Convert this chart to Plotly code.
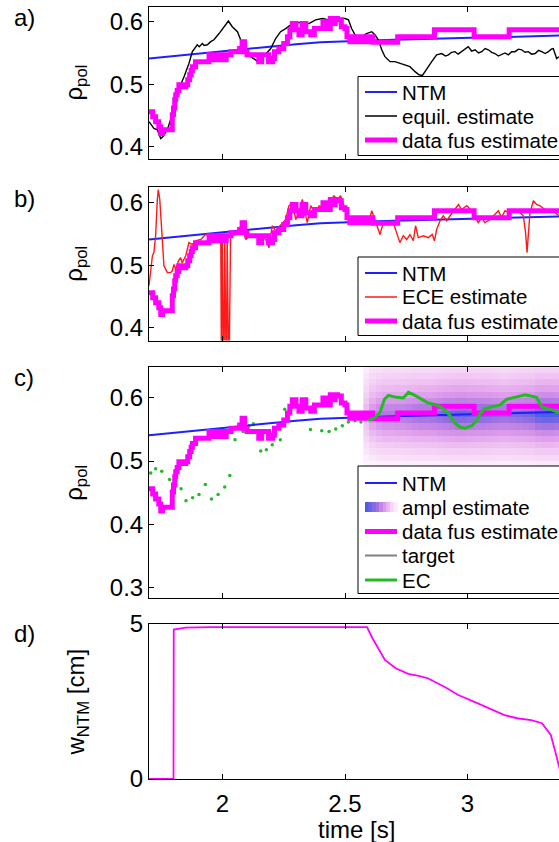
import plotly.graph_objects as go

W, H = 559, 842
FONT = "Liberation Sans, Arial, Helvetica, sans-serif"

# ---------------- data ----------------
# NTM location (same in panels a-c)
ntm_t = [1.70, 1.80, 1.90, 2.00, 2.10, 2.20, 2.30, 2.40, 2.50, 2.60, 2.70, 2.80,
         2.90, 3.00, 3.10, 3.20, 3.30, 3.40]
ntm_rho = [0.541, 0.545, 0.549, 0.553, 0.557, 0.561, 0.564, 0.567, 0.569, 0.570,
           0.571, 0.572, 0.573, 0.574, 0.575, 0.576, 0.577, 0.578]

# data fusion estimate (piecewise constant)
fus_t = [1.700, 1.715, 1.727, 1.740, 1.748, 1.755, 1.795, 1.800, 1.805, 1.809,
         1.815, 1.822, 1.840, 1.850, 1.858, 1.866, 1.872, 1.877, 1.890, 1.945,
         1.960, 1.980, 1.995, 2.015, 2.035, 2.070, 2.080, 2.090, 2.100, 2.148,
         2.160, 2.188, 2.204, 2.212, 2.230, 2.250, 2.265, 2.275, 2.285, 2.300,
         2.312, 2.325, 2.340, 2.360, 2.375, 2.410, 2.420, 2.440, 2.450, 2.460,
         2.470, 2.485, 2.500, 2.508, 2.520, 2.535, 2.550, 2.570, 2.585, 2.605,
         2.614, 2.715, 2.865, 3.027, 3.170, 3.400]
fus_rho = [0.456, 0.448, 0.440, 0.432, 0.421, 0.427, 0.451, 0.462, 0.475, 0.483,
           0.490, 0.499, 0.496, 0.499, 0.507, 0.515, 0.522, 0.528, 0.536, 0.547,
           0.539, 0.547, 0.539, 0.547, 0.552, 0.557, 0.568, 0.552, 0.547, 0.536,
           0.547, 0.536, 0.541, 0.552, 0.557, 0.565, 0.576, 0.587, 0.597, 0.587,
           0.579, 0.597, 0.584, 0.579, 0.589, 0.600, 0.589, 0.605, 0.597, 0.605,
           0.603, 0.592, 0.589, 0.576, 0.568, 0.576, 0.568, 0.576, 0.568, 0.576,
           0.567, 0.576, 0.587, 0.576, 0.587, 0.587]

# equilibrium estimate
eq_t = [1.700, 1.720, 1.734, 1.748, 1.757, 1.775, 1.788, 1.802, 1.816, 1.829,
        1.843, 1.863, 1.877, 1.897, 1.905, 1.918, 1.925, 1.938, 1.952, 1.965,
        1.986, 2.006, 2.024, 2.040, 2.061, 2.074, 2.095, 2.115, 2.135, 2.145,
        2.156, 2.176, 2.197, 2.217, 2.237, 2.258, 2.278, 2.299, 2.326, 2.353,
        2.380, 2.408, 2.435, 2.462, 2.489, 2.500, 2.514, 2.527, 2.541, 2.554,
        2.568, 2.588, 2.609, 2.622, 2.636, 2.650, 2.663, 2.684, 2.704, 2.724,
        2.745, 2.765, 2.786, 2.802, 2.816, 2.833, 2.854, 2.874, 2.895, 2.910,
        2.922, 2.935, 2.949, 2.962, 2.976, 2.990, 3.003, 3.017, 3.031, 3.045,
        3.058, 3.072, 3.085, 3.099, 3.112, 3.126, 3.139, 3.153, 3.167, 3.180,
        3.194, 3.208, 3.221, 3.235, 3.248, 3.262, 3.276, 3.290, 3.303, 3.317,
        3.330, 3.342, 3.350, 3.364, 3.373]
eq_rho = [0.440, 0.429, 0.427, 0.413, 0.416, 0.427, 0.443, 0.467, 0.483, 0.499,
          0.512, 0.533, 0.552, 0.563, 0.560, 0.565, 0.562, 0.563, 0.568, 0.571,
          0.581, 0.592, 0.601, 0.592, 0.584, 0.571, 0.557, 0.544, 0.539, 0.535,
          0.539, 0.547, 0.557, 0.573, 0.584, 0.589, 0.595, 0.597, 0.600, 0.597,
          0.603, 0.605, 0.603, 0.605, 0.605, 0.605, 0.603, 0.589, 0.579, 0.573,
          0.576, 0.581, 0.584, 0.579, 0.571, 0.555, 0.544, 0.536, 0.536, 0.533,
          0.531, 0.528, 0.520, 0.515, 0.514, 0.523, 0.536, 0.547, 0.549, 0.545,
          0.547, 0.551, 0.552, 0.548, 0.552, 0.556, 0.560, 0.553, 0.555, 0.550,
          0.552, 0.557, 0.555, 0.551, 0.549, 0.545, 0.547, 0.550, 0.547, 0.552,
          0.552, 0.556, 0.555, 0.551, 0.552, 0.548, 0.549, 0.554, 0.552, 0.549,
          0.552, 0.556, 0.557, 0.541, 0.544]

# ECE estimate
ece_t = [1.700, 1.707, 1.714, 1.720, 1.727, 1.734, 1.738, 1.744, 1.752, 1.761,
         1.775, 1.788, 1.795, 1.802, 1.809, 1.820, 1.829, 1.836, 1.850, 1.863,
         1.877, 1.890, 1.911, 1.931, 1.945, 1.959, 1.979, 1.993, 1.996, 1.999,
         2.006, 2.009, 2.016, 2.019, 2.026, 2.033, 2.054, 2.067, 2.081, 2.095,
         2.115, 2.135, 2.156, 2.176, 2.190, 2.203, 2.217, 2.237, 2.258, 2.271,
         2.285, 2.299, 2.312, 2.326, 2.339, 2.346, 2.360, 2.380, 2.394, 2.414,
         2.435, 2.455, 2.469, 2.482, 2.496, 2.510, 2.527, 2.548, 2.568, 2.582,
         2.602, 2.609, 2.622, 2.636, 2.643, 2.656, 2.677, 2.697, 2.711, 2.724,
         2.738, 2.752, 2.765, 2.779, 2.788, 2.799, 2.820, 2.840, 2.856, 2.865,
         2.874, 2.888, 2.901, 2.915, 2.929, 2.949, 2.963, 2.976, 2.997, 3.017,
         3.031, 3.044, 3.058, 3.071, 3.092, 3.112, 3.126, 3.139, 3.153, 3.167,
         3.180, 3.194, 3.214, 3.228, 3.237, 3.243, 3.248, 3.255, 3.269, 3.282,
         3.296, 3.316, 3.337, 3.357, 3.373]
ece_rho = [0.467, 0.493, 0.515, 0.520, 0.547, 0.605, 0.621, 0.605, 0.547, 0.499,
           0.488, 0.488, 0.491, 0.501, 0.493, 0.507, 0.512, 0.504, 0.515, 0.536,
           0.533, 0.539, 0.541, 0.549, 0.547, 0.539, 0.536, 0.536, 0.300, 0.540,
           0.300, 0.542, 0.300, 0.545, 0.300, 0.547, 0.549, 0.560, 0.563, 0.541,
           0.549, 0.547, 0.549, 0.541, 0.528, 0.563, 0.555, 0.563, 0.573, 0.595,
           0.600, 0.573, 0.584, 0.605, 0.584, 0.568, 0.595, 0.584, 0.595, 0.592,
           0.600, 0.611, 0.605, 0.611, 0.595, 0.576, 0.568, 0.573, 0.568, 0.571,
           0.576, 0.587, 0.573, 0.557, 0.549, 0.568, 0.565, 0.568, 0.552, 0.536,
           0.547, 0.541, 0.549, 0.539, 0.563, 0.544, 0.547, 0.544, 0.549, 0.539,
           0.557, 0.571, 0.579, 0.571, 0.579, 0.589, 0.597, 0.589, 0.595, 0.587,
           0.576, 0.568, 0.576, 0.568, 0.573, 0.581, 0.587, 0.576, 0.587, 0.584,
           0.589, 0.587, 0.584, 0.579, 0.552, 0.520, 0.552, 0.584, 0.603, 0.597,
           0.595, 0.589, 0.587, 0.584, 0.579]

# EC deposition: sparse samples before switch-on, continuous afterwards
ec_dot_t = [1.707, 1.727, 1.752, 1.784, 1.809, 1.831, 1.851, 1.878, 1.904, 1.930,
            1.955, 1.982, 2.009, 2.030, 2.051, 2.084, 2.108, 2.126, 2.156, 2.179,
            2.203, 2.236, 2.254, 2.323, 2.359, 2.405, 2.435, 2.462, 2.489, 2.514,
            2.541, 2.565]
ec_dot_rho = [0.481, 0.488, 0.484, 0.471, 0.462, 0.456, 0.437, 0.442, 0.447, 0.463,
              0.440, 0.447, 0.459, 0.477, 0.534, 0.547, 0.556, 0.559, 0.516, 0.518,
              0.526, 0.534, 0.582, 0.581, 0.550, 0.548, 0.547, 0.551, 0.556, 0.562,
              0.564, 0.562]
ec_t = [2.595, 2.622, 2.643, 2.661, 2.677, 2.711, 2.738, 2.759, 2.786, 2.813,
        2.840, 2.874, 2.901, 2.929, 2.949, 2.969, 2.990, 3.017, 3.037, 3.051,
        3.071, 3.099, 3.133, 3.160, 3.194, 3.235, 3.282, 3.303, 3.330, 3.373]
ec_rho = [0.564, 0.569, 0.577, 0.598, 0.604, 0.601, 0.600, 0.609, 0.604, 0.598,
          0.592, 0.589, 0.583, 0.572, 0.560, 0.554, 0.552, 0.556, 0.564, 0.575,
          0.583, 0.586, 0.589, 0.598, 0.601, 0.605, 0.601, 0.586, 0.583, 0.577]

# amplitude-based estimate: time columns, rho rows, relative weights
ampl_t = [2.5875, 2.6125, 2.6375, 2.6625, 2.6875, 2.7125, 2.7375, 2.7625, 2.7875,
          2.8125, 2.8375, 2.8625, 2.8875, 2.9125, 2.9375, 2.9625, 2.9875, 3.0125,
          3.0375, 3.0625, 3.0875, 3.1125, 3.1375, 3.1625, 3.1875, 3.2125, 3.2375,
          3.2625, 3.2875, 3.3125, 3.3375, 3.3625, 3.3875]
ampl_col = [0.35, 0.55, 0.65, 0.70, 0.70, 0.72, 0.72, 0.75, 0.78, 0.80, 0.80,
            0.82, 0.85, 0.88, 0.90, 0.92, 0.92, 0.90, 0.88, 0.88, 0.86, 0.84,
            0.82, 0.82, 0.84, 0.86, 0.88, 0.90, 0.98, 1.00, 1.00, 0.98, 0.95]
ampl_rho = [0.495, 0.505, 0.515, 0.525, 0.535, 0.545, 0.555, 0.565, 0.575, 0.585,
            0.595, 0.605, 0.615, 0.625, 0.635, 0.645]
ampl_row = [0.08, 0.15, 0.23, 0.33, 0.45, 0.58, 0.74, 0.90, 1.00, 0.86, 0.70,
            0.56, 0.44, 0.34, 0.26, 0.19]

# NTM island width
w_t = [1.700, 1.800, 1.801, 1.850, 1.950, 2.590, 2.612, 2.640, 2.663, 2.707,
       2.758, 2.800, 2.838, 2.911, 2.962, 3.042, 3.100, 3.151, 3.202, 3.260,
       3.304, 3.340, 3.362, 3.380]
w_cm = [0.00, 0.00, 4.82, 4.88, 4.90, 4.90, 4.54, 4.15, 3.84, 3.57, 3.39, 3.33,
        3.25, 2.95, 2.71, 2.44, 2.25, 2.06, 1.96, 1.90, 1.80, 1.42, 0.77, 0.20]

# ---------------- styling ----------------
BLUE = "#1f1fff"
MAG = "#ff00ff"
RED = "#ff1a1a"
GREEN = "#22bb22"
AMPL_SCALE = [[0.0, "#ffffff"], [0.1, "#f9e2f9"], [0.25, "#f1c6f3"],
              [0.45, "#e09fec"], [0.65, "#bd80e4"], [0.82, "#8c6ae0"],
              [1.0, "#4d5ee6"]]

X0_PX = 149.0
X_RANGE = [1.70, 1.70 + (W - X0_PX) / 245.0]


def px(x):
    return x / W


def py(y):
    return 1 - y / H


# panel boxes in pixels (top, bottom) and value ranges
panels = [
    dict(top=6.7, bot=158.5, rng=[0.381, 0.624], ticks=[0.4, 0.5, 0.6]),
    dict(top=187.0, bot=340.5, rng=[0.3795, 0.625], ticks=[0.4, 0.5, 0.6]),
    dict(top=367.3, bot=598.3, rng=[0.2826, 0.6486], ticks=[0.3, 0.4, 0.5, 0.6]),
    dict(top=624.0, bot=779.0, rng=[0.0, 5.0], ticks=[0, 5]),
]

fig = go.Figure()

# ---- panel c heat map (drawn first so lines sit on top)
z = [[c * r for c in ampl_col] for r in ampl_row]
fig.add_trace(go.Heatmap(x=ampl_t, y=ampl_rho, z=z, zmin=0, zmax=1,
                         colorscale=AMPL_SCALE, showscale=False,
                         hoverinfo="skip", xaxis="x3", yaxis="y3"))


def line(x, y, color, width, ax, shape="linear"):
    fig.add_trace(go.Scatter(x=x, y=y, mode="lines",
                             line=dict(color=color, width=width, shape=shape),
                             xaxis="x" + ax, yaxis="y" + ax,
                             showlegend=False, hoverinfo="skip"))


# panel a
line(ntm_t, ntm_rho, BLUE, 2, "")
line(eq_t, eq_rho, "black", 1.4, "")
line(fus_t, fus_rho, MAG, 5, "", shape="hv")
# panel b
line(ntm_t, ntm_rho, BLUE, 2, "2")
line(ece_t, ece_rho, RED, 1.4, "2")
line(fus_t, fus_rho, MAG, 5, "2", shape="hv")
# panel c
fig.add_trace(go.Scatter(x=ec_dot_t, y=ec_dot_rho, mode="markers",
                         marker=dict(color=GREEN, size=3.5), xaxis="x3", yaxis="y3",
                         showlegend=False, hoverinfo="skip"))
line(ntm_t, ntm_rho, BLUE, 2, "3")
line(fus_t, fus_rho, MAG, 5, "3", shape="hv")
line(ec_t, ec_rho, GREEN, 3, "3")
# panel d
line(w_t, w_cm, MAG, 1.8, "4")

# ---- axes
tickfont = dict(family=FONT, size=24, color="black")
layout = dict(width=W, height=H, margin=dict(l=0, r=0, t=0, b=0, autoexpand=False),
              paper_bgcolor="white", plot_bgcolor="white", showlegend=False)
for i, p in enumerate(panels):
    sfx = "" if i == 0 else str(i + 1)
    layout["xaxis" + sfx] = dict(
        domain=[px(X0_PX), 1.0], range=X_RANGE, anchor="y" + sfx,
        tickvals=[2, 2.5, 3], ticks="inside", ticklen=5, tickcolor="black",
        showline=True, linecolor="black", linewidth=1, mirror="ticks",
        showgrid=False, zeroline=False, showticklabels=(i == 3),
        tickfont=tickfont, ticklabelstandoff=3)
    layout["yaxis" + sfx] = dict(
        domain=[py(p["bot"]), py(p["top"])], range=p["rng"], anchor="x" + sfx,
        tickvals=p["ticks"], ticks="inside", ticklen=5, tickcolor="black",
        showline=True, linecolor="black", linewidth=1, showgrid=False,
        zeroline=False, tickfont=tickfont)
fig.update_layout(**layout)

# ---- text
ann = []
for lab, yc in zip(["a)", "b)", "c)", "d)"], [17.5, 198, 377.5, 633]):
    ann.append(dict(text=lab, x=px(12), y=py(yc), xanchor="left", yanchor="middle"))
for p in panels[:3]:
    ann.append(dict(text="\u03c1<sub>pol</sub>", textangle=-90,
                    x=px(76), y=py((p["top"] + p["bot"]) / 2),
                    xanchor="center", yanchor="middle"))
ann.append(dict(text="w<sub>NTM</sub> [cm]", textangle=-90, x=px(77),
                y=py(701.5), xanchor="center", yanchor="middle"))
ann.append(dict(text="time [s]", x=px(356), y=py(829), xanchor="center",
                yanchor="middle"))
for a in ann:
    a.update(xref="paper", yref="paper", showarrow=False,
             font=dict(family=FONT, size=24, color="black"))

# ---- legend boxes
shapes = []
LEG_FONT = dict(family=FONT, size=20.5, color="black")
SAMPLE_X0, SAMPLE_X1, TEXT_X = 365, 397, 400
GRAD = ["#4d5ee6", "#6a63e3", "#8569e0", "#a174e1", "#c286e6",
        "#dc98ea", "#ebb6f0", "#f5d4f6", "#fbeafb"]


def legend_box(top, bot, items):
    shapes.append(dict(type="rect", xref="paper", yref="paper", x0=px(358), x1=1.1,
                       y0=py(bot), y1=py(top), line=dict(color="black", width=1),
                       fillcolor="white", layer="above"))
    for label, yc, kind, color, width in items:
        if kind == "grad":
            step = (SAMPLE_X1 - SAMPLE_X0) / len(GRAD)
            for k, c in enumerate(GRAD):
                shapes.append(dict(type="rect", xref="paper", yref="paper",
                                   x0=px(SAMPLE_X0 + k * step),
                                   x1=px(SAMPLE_X0 + (k + 1) * step + 0.5),
                                   y0=py(yc + 5), y1=py(yc - 5),
                                   line=dict(width=0), fillcolor=c, layer="above"))
        else:
            shapes.append(dict(type="line", xref="paper", yref="paper",
                               x0=px(SAMPLE_X0), x1=px(SAMPLE_X1), y0=py(yc), y1=py(yc),
                               line=dict(color=color, width=width), layer="above"))
        ann.append(dict(text=label, x=px(TEXT_X), y=py(yc), xref="paper", yref="paper",
                        xanchor="left", yanchor="middle", showarrow=False,
                        font=LEG_FONT))


legend_box(76.5, 155.5, [("NTM", 92, "line", BLUE, 2),
                         ("equil. estimate", 116, "line", "black", 1.5),
                         ("data fus estimate", 140, "line", MAG, 5)])
legend_box(257, 335.5, [("NTM", 273, "line", BLUE, 2),
                        ("ECE estimate", 297, "line", RED, 1.5),
                        ("data fus estimate", 321, "line", MAG, 5)])
legend_box(466, 593.5, [("NTM", 483, "line", BLUE, 2),
                        ("ampl estimate", 507, "grad", None, None),
                        ("data fus estimate", 531.5, "line", MAG, 5),
                        ("target", 555.5, "line", "#808080", 2),
                        ("EC", 580, "line", GREEN, 3)])

fig.update_layout(annotations=ann, shapes=shapes)
fig.write_html("out.html")
